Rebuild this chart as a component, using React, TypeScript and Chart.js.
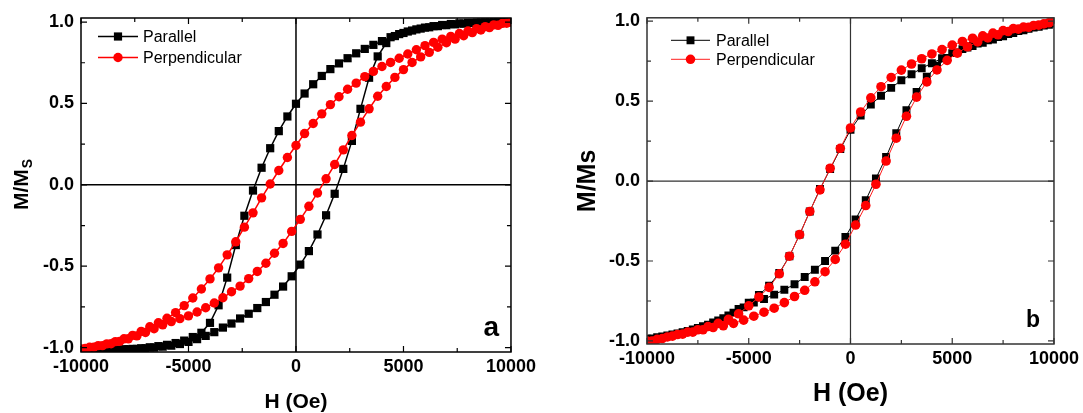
import React, { useEffect, useRef } from "react";
import { Chart, registerables } from "chart.js";

Chart.register(...registerables);

const FONT = "'Liberation Sans', Arial, Helvetica, sans-serif";

// ---------- ticks ----------
const X_MAJOR = [-10000, -5000, 0, 5000, 10000];
const X_MINOR = [-7500, -2500, 2500, 7500];
const Y_MAJOR = [-1, -0.5, 0, 0.5, 1];
const Y_MINOR = [-0.75, -0.25, 0.25, 0.75];

const SERIES_NAMES = ["Parallel", "Perpendicular"];
const X_TITLE = "H (Oe)";

// ---------- panel a data ----------
const A_H_DESC = [10000, 9600, 9200, 8800, 8400, 8000, 7600, 7200, 6800, 6400, 6000, 5600, 5200, 4800, 4400, 4000, 3600, 3200, 2800, 2400, 2000, 1600, 1200, 800, 400, 0, -400, -800, -1200, -1600, -2000, -2400, -2800, -3200, -3600, -4000, -4400, -4800, -5200, -5600, -6000, -6400, -6800, -7200, -7600, -8000, -8400, -8800, -9200, -9600, -10000];
const A_H_ASC = [-9800, -9400, -9000, -8600, -8200, -7800, -7400, -7000, -6600, -6200, -5800, -5400, -5000, -4600, -4200, -3800, -3400, -3000, -2600, -2200, -1800, -1400, -1000, -600, -200, 200, 600, 1000, 1400, 1800, 2200, 2600, 3000, 3400, 3800, 4200, 4600, 5000, 5400, 5800, 6200, 6600, 7000, 7400, 7800, 8200, 8600, 9000, 9400, 9800];

const A_PAR_DESC = [1.0, 1.0, 0.999, 0.998, 0.997, 0.995, 0.992, 0.988, 0.982, 0.975,
  0.966, 0.955, 0.942, 0.926, 0.907, 0.883, 0.86, 0.835, 0.808, 0.778,
  0.746, 0.711, 0.669, 0.618, 0.561, 0.498, 0.42, 0.33, 0.225, 0.105,
  -0.035, -0.19, -0.37, -0.57, -0.74, -0.848, -0.909, -0.935, -0.957, -0.972,
  -0.983, -0.991, -0.998, -1.004, -1.008, -1.01, -1.013, -1.015, -1.017, -1.018, -1.018];
const A_PAR_ASC = [-1.018, -1.017, -1.016, -1.015, -1.013, -1.01, -1.008, -1.004, -1.0, -0.994,
  -0.988, -0.978, -0.965, -0.948, -0.928, -0.905, -0.877, -0.852, -0.821, -0.792,
  -0.757, -0.72, -0.675, -0.625, -0.562, -0.49, -0.407, -0.305, -0.187, -0.055,
  0.098, 0.27, 0.467, 0.658, 0.789, 0.871, 0.914, 0.933, 0.948, 0.96,
  0.968, 0.975, 0.981, 0.986, 0.99, 0.994, 0.997, 0.998, 0.999, 1.0];
const A_PERP_DESC = [1.0, 0.992, 0.983, 0.972, 0.96, 0.945, 0.93, 0.912, 0.895, 0.875,
  0.855, 0.83, 0.804, 0.778, 0.752, 0.727, 0.697, 0.665, 0.625, 0.587,
  0.541, 0.493, 0.436, 0.377, 0.315, 0.242, 0.168, 0.088, 0.005, -0.08,
  -0.172, -0.26, -0.35, -0.43, -0.51, -0.578, -0.64, -0.695, -0.742, -0.785,
  -0.82, -0.847, -0.872, -0.9, -0.925, -0.946, -0.963, -0.977, -0.988, -0.998, -1.008];
const A_PERP_ASC = [-1.005, -0.997, -0.988, -0.976, -0.962, -0.946, -0.928, -0.907, -0.884, -0.86,
  -0.84, -0.822, -0.805, -0.781, -0.755, -0.726, -0.694, -0.657, -0.622, -0.576,
  -0.532, -0.482, -0.42, -0.36, -0.286, -0.212, -0.132, -0.05, 0.037, 0.125,
  0.215, 0.303, 0.385, 0.467, 0.544, 0.604, 0.66, 0.708, 0.752, 0.786,
  0.814, 0.845, 0.873, 0.895, 0.916, 0.935, 0.951, 0.966, 0.98, 0.993];

// ---------- panel b data ----------
const B_H_DESC = [10000, 9500, 9000, 8500, 8000, 7500, 7000, 6500, 6000, 5500, 5000, 4500, 4000, 3500, 3000, 2500, 2000, 1500, 1000, 500, 0, -500, -1000, -1500, -2000, -2500, -3000, -3500, -4000, -4500, -5000, -5500, -6000, -6500, -7000, -7500, -8000, -8500, -9000, -9500, -10000];
const B_H_ASC = [-9750, -9250, -8750, -8250, -7750, -7250, -6750, -6250, -5750, -5250, -4750, -4250, -3750, -3250, -2750, -2250, -1750, -1250, -750, -250, 250, 750, 1250, 1750, 2250, 2750, 3250, 3750, 4250, 4750, 5250, 5750, 6250, 6750, 7250, 7750, 8250, 8750, 9250, 9750];

const B_PAR_DESC = [0.985, 0.972, 0.96, 0.943, 0.925, 0.905, 0.885, 0.865, 0.845, 0.825,
  0.8, 0.768, 0.737, 0.706, 0.668, 0.63, 0.583, 0.533, 0.478, 0.41,
  0.32, 0.2, 0.075, -0.05, -0.19, -0.335, -0.47, -0.575, -0.655, -0.712,
  -0.76, -0.8, -0.84, -0.872, -0.898, -0.918, -0.938, -0.953, -0.966, -0.977, -0.986];
const B_PAR_ASC = [-0.984, -0.972, -0.96, -0.946, -0.928, -0.908, -0.885, -0.857, -0.823, -0.79,
  -0.76, -0.738, -0.71, -0.68, -0.645, -0.6, -0.555, -0.5, -0.435, -0.35,
  -0.24, -0.12, 0.016, 0.15, 0.3, 0.443, 0.557, 0.652, 0.722, 0.77,
  0.805, 0.835, 0.86, 0.88, 0.9, 0.92, 0.938, 0.952, 0.965, 0.978];
const B_PERP_DESC = [1.0, 0.983, 0.973, 0.963, 0.953, 0.941, 0.925, 0.908, 0.893, 0.873,
  0.85, 0.822, 0.795, 0.765, 0.732, 0.694, 0.648, 0.59, 0.52, 0.432,
  0.332, 0.205, 0.08, -0.055, -0.19, -0.335, -0.47, -0.58, -0.665, -0.725,
  -0.78, -0.83, -0.865, -0.89, -0.91, -0.93, -0.945, -0.96, -0.975, -0.99, -1.0];
const B_PERP_ASC = [-1.0, -0.985, -0.97, -0.957, -0.945, -0.93, -0.916, -0.905, -0.89, -0.87,
  -0.845, -0.82, -0.795, -0.76, -0.722, -0.683, -0.63, -0.567, -0.49, -0.395,
  -0.275, -0.153, -0.02, 0.125, 0.268, 0.405, 0.525, 0.62, 0.695, 0.755,
  0.8, 0.84, 0.87, 0.895, 0.915, 0.935, 0.95, 0.962, 0.975, 0.99];

type Pt = { x: number; y: number };
const pts = (h: number[], m: number[]): Pt[] => h.map((x, i) => ({ x, y: m[i] }));

type PanelCfg = {
  left: number; width: number; height: number;
  padTop: number; padRight: number; yW: number; xH: number;
  yMin: number; yMax: number;
  frameColor: string; frameW: number; zeroColor: string; zeroW: number;
  lineW: number; blackLine: string; redLine: string; sqR: number; ciR: number;
  tickMajor: number; tickMinor: number;
  letter: string; letterSize: number; letterDx: number; letterDy: number;
  legX: number; legY1: number; legY2: number; legLen: number; legTextDx: number; legSize: number;
  xTitleSize: number; xTitlePadB: number;
  yTitleMain: string; yTitleSub: string; yTitleSize: number; yTitleX: number;
  hDesc: number[]; hAsc: number[];
  parDesc: number[]; parAsc: number[]; perpDesc: number[]; perpAsc: number[];
};

const PANEL_A: PanelCfg = {
  left: 0, width: 540, height: 413,
  padTop: 18, padRight: 29, yW: 81, xH: 61,
  yMin: -1.027, yMax: 1.025,
  frameColor: "#000", frameW: 1.5, zeroColor: "#000", zeroW: 1.5,
  lineW: 1.5, blackLine: "#000", redLine: "#ff0000", sqR: 5.8, ciR: 4.7,
  tickMajor: 6, tickMinor: 4,
  letter: "a", letterSize: 28, letterDx: 12, letterDy: 16,
  legX: 17, legY1: 18.5, legY2: 39.5, legLen: 40, legTextDx: 45, legSize: 16,
  xTitleSize: 21, xTitlePadB: 0,
  yTitleMain: "M/M", yTitleSub: "S", yTitleSize: 21, yTitleX: 22,
  hDesc: A_H_DESC, hAsc: A_H_ASC,
  parDesc: A_PAR_DESC, parAsc: A_PAR_ASC, perpDesc: A_PERP_DESC, perpAsc: A_PERP_ASC,
};

const PANEL_B: PanelCfg = {
  left: 540, width: 543, height: 413,
  padTop: 14.5, padRight: 27, yW: 107, xH: 69,
  yMin: -1.019, yMax: 1.021,
  frameColor: "#333", frameW: 1.5, zeroColor: "#333", zeroW: 1.2,
  lineW: 1, blackLine: "#000", redLine: "#ff2020", sqR: 5.6, ciR: 4.8,
  tickMajor: 6, tickMinor: 4,
  letter: "b", letterSize: 23, letterDx: 14, letterDy: 17,
  legX: 24, legY1: 22.5, legY2: 41.5, legLen: 39, legTextDx: 45, legSize: 16,
  xTitleSize: 25, xTitlePadB: 6,
  yTitleMain: "M/Ms", yTitleSub: "", yTitleSize: 25, yTitleX: 48,
  hDesc: B_H_DESC, hAsc: B_H_ASC,
  parDesc: B_PAR_DESC, parAsc: B_PAR_ASC, perpDesc: B_PERP_DESC, perpAsc: B_PERP_ASC,
};

function makeDecor(cfg: PanelCfg) {
  return {
    id: "decor",
    beforeDatasetsDraw(chart: any) {
      const { ctx, chartArea: a, scales } = chart;
      const x0 = scales.x.getPixelForValue(0);
      const y0 = scales.y.getPixelForValue(0);
      ctx.save();
      ctx.strokeStyle = cfg.zeroColor;
      ctx.lineWidth = cfg.zeroW;
      ctx.beginPath();
      ctx.moveTo(x0, a.top); ctx.lineTo(x0, a.bottom);
      ctx.moveTo(a.left, y0); ctx.lineTo(a.right, y0);
      ctx.stroke();
      ctx.restore();
    },
    afterDraw(chart: any) {
      const { ctx, chartArea: a, scales } = chart;
      ctx.save();
      // frame
      ctx.strokeStyle = cfg.frameColor;
      ctx.lineWidth = cfg.frameW;
      ctx.strokeRect(a.left, a.top, a.right - a.left, a.bottom - a.top);
      // inward ticks on all four sides
      ctx.lineWidth = 1.2;
      ctx.beginPath();
      const yt = (vals: number[], len: number) => vals.forEach((v) => {
        const p = scales.y.getPixelForValue(v);
        ctx.moveTo(a.left, p); ctx.lineTo(a.left + len, p);
        ctx.moveTo(a.right, p); ctx.lineTo(a.right - len, p);
      });
      const xt = (vals: number[], len: number) => vals.forEach((v) => {
        const p = scales.x.getPixelForValue(v);
        ctx.moveTo(p, a.bottom); ctx.lineTo(p, a.bottom - len);
        ctx.moveTo(p, a.top); ctx.lineTo(p, a.top + len);
      });
      yt(Y_MAJOR, cfg.tickMajor); yt(Y_MINOR, cfg.tickMinor);
      xt(X_MAJOR, cfg.tickMajor); xt(X_MINOR, cfg.tickMinor);
      ctx.stroke();

      // legend inside the plot
      const items = [
        { name: SERIES_NAMES[0], color: cfg.blackLine, fill: "#000", style: "rect", r: cfg.sqR, y: a.top + cfg.legY1 },
        { name: SERIES_NAMES[1], color: cfg.redLine, fill: "#ff0000", style: "circle", r: cfg.ciR, y: a.top + cfg.legY2 },
      ];
      items.forEach((it) => {
        const lx = a.left + cfg.legX;
        ctx.strokeStyle = it.color;
        ctx.lineWidth = cfg.lineW;
        ctx.beginPath();
        ctx.moveTo(lx, it.y); ctx.lineTo(lx + cfg.legLen, it.y);
        ctx.stroke();
        ctx.fillStyle = it.fill;
        const cx = lx + cfg.legLen / 2;
        ctx.beginPath();
        if (it.style === "rect") {
          const s = it.r * Math.SQRT1_2;
          ctx.rect(cx - s, it.y - s, 2 * s, 2 * s);
        } else {
          ctx.arc(cx, it.y, it.r, 0, Math.PI * 2);
        }
        ctx.fill();
        ctx.fillStyle = "#000";
        ctx.font = `${cfg.legSize}px ${FONT}`;
        ctx.textBaseline = "middle";
        ctx.textAlign = "left";
        ctx.fillText(it.name, lx + cfg.legTextDx, it.y + 1);
      });

      // panel letter
      ctx.fillStyle = "#000";
      ctx.font = `bold ${cfg.letterSize}px ${FONT}`;
      ctx.textAlign = "right";
      ctx.textBaseline = "alphabetic";
      ctx.fillText(cfg.letter, a.right - cfg.letterDx, a.bottom - cfg.letterDy);

      // y title (rotated, with optional subscript)
      const cy = (a.top + a.bottom) / 2;
      ctx.translate(cfg.yTitleX, cy);
      ctx.rotate(-Math.PI / 2);
      ctx.font = `bold ${cfg.yTitleSize}px ${FONT}`;
      const wMain = ctx.measureText(cfg.yTitleMain).width;
      const subSize = Math.round(cfg.yTitleSize * 0.68);
      ctx.font = `bold ${subSize}px ${FONT}`;
      const wSub = cfg.yTitleSub ? ctx.measureText(cfg.yTitleSub).width : 0;
      const start = -(wMain + wSub) / 2;
      ctx.textAlign = "left";
      ctx.textBaseline = "middle";
      ctx.font = `bold ${cfg.yTitleSize}px ${FONT}`;
      ctx.fillText(cfg.yTitleMain, start, 0);
      if (cfg.yTitleSub) {
        ctx.font = `bold ${subSize}px ${FONT}`;
        ctx.fillText(cfg.yTitleSub, start + wMain + 1, cfg.yTitleSize * 0.3);
      }
      ctx.restore();
    },
  };
}

function Panel({ cfg }: { cfg: PanelCfg }) {
  const ref = useRef<HTMLCanvasElement | null>(null);
  useEffect(() => {
    if (!ref.current) return;
    const tickFont = { family: FONT, size: 18, weight: "bold" as const };
    const chart = new Chart(ref.current, {
      type: "scatter",
      data: {
        datasets: [
          {
            label: SERIES_NAMES[0],
            data: [...pts(cfg.hDesc, cfg.parDesc), ...pts(cfg.hAsc, cfg.parAsc)],
            showLine: true,
            borderColor: cfg.blackLine,
            borderWidth: cfg.lineW,
            backgroundColor: "#000",
            pointBackgroundColor: "#000",
            pointBorderColor: "#000",
            pointBorderWidth: 0,
            pointStyle: "rect",
            pointRadius: cfg.sqR,
            order: 2,
          },
          {
            label: SERIES_NAMES[1],
            data: [...pts(cfg.hDesc, cfg.perpDesc), ...pts(cfg.hAsc, cfg.perpAsc)],
            showLine: true,
            borderColor: cfg.redLine,
            borderWidth: cfg.lineW,
            backgroundColor: "#ff0000",
            pointBackgroundColor: "#ff0000",
            pointBorderColor: "#ff0000",
            pointBorderWidth: 0,
            pointStyle: "circle",
            pointRadius: cfg.ciR,
            order: 1,
          },
        ],
      },
      options: {
        responsive: false,
        maintainAspectRatio: false,
        animation: false,
        devicePixelRatio: 1,
        layout: { padding: { top: cfg.padTop, right: cfg.padRight, left: 0, bottom: 0 } },
        plugins: { legend: { display: false }, tooltip: { enabled: false } },
        elements: { line: { tension: 0 } },
        scales: {
          x: {
            type: "linear",
            min: -10000,
            max: 10000,
            afterBuildTicks: (s: any) => { s.ticks = X_MAJOR.map((v) => ({ value: v })); },
            afterFit: (s: any) => { s.height = cfg.xH; },
            grid: { display: false, drawTicks: false },
            border: { display: false },
            ticks: {
              autoSkip: false, maxRotation: 0, padding: 4, color: "#000", font: tickFont,
              callback: (v: any) => String(v),
            },
            title: {
              display: true, text: X_TITLE, color: "#000",
              font: { family: FONT, size: cfg.xTitleSize, weight: "bold", lineHeight: 1 },
              padding: { top: 0, bottom: cfg.xTitlePadB },
            },
          },
          y: {
            type: "linear",
            min: cfg.yMin,
            max: cfg.yMax,
            afterBuildTicks: (s: any) => { s.ticks = Y_MAJOR.map((v) => ({ value: v })); },
            afterFit: (s: any) => { s.width = cfg.yW; },
            grid: { display: false, drawTicks: false },
            border: { display: false },
            ticks: {
              padding: 7, color: "#000", font: tickFont,
              callback: (v: any) => Number(v).toFixed(1),
            },
          },
        },
      },
      plugins: [makeDecor(cfg)],
    } as any);
    return () => chart.destroy();
  }, [cfg]);
  return (
    <canvas
      ref={ref}
      width={cfg.width}
      height={cfg.height}
      style={{ position: "absolute", left: cfg.left, top: 0, width: cfg.width, height: cfg.height, display: "block" }}
    />
  );
}

export default function App() {
  return (
    <div style={{ position: "fixed", left: 0, top: 0, width: 1083, height: 413, background: "#fff", overflow: "hidden" }}>
      <Panel cfg={PANEL_A} />
      <Panel cfg={PANEL_B} />
    </div>
  );
}
